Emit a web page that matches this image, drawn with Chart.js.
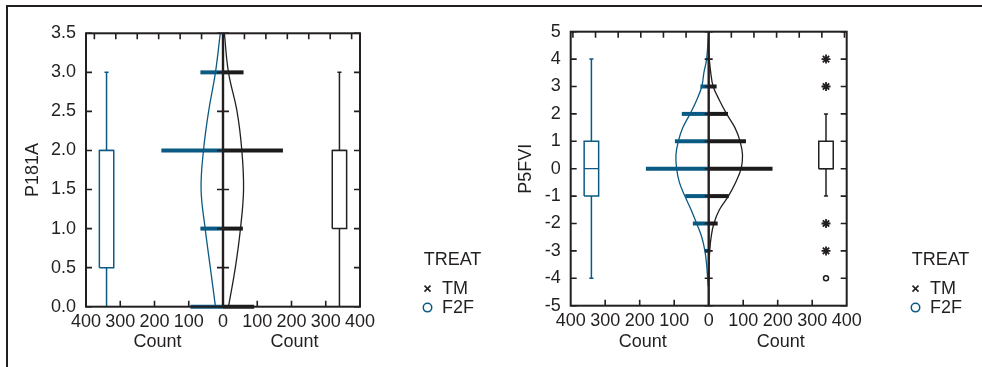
<!DOCTYPE html>
<html>
<head>
<meta charset="utf-8">
<script src="https://cdn.jsdelivr.net/npm/chart.js"></script>
<style>
  html, body { margin: 0; padding: 0; background: #fff; }
  body { width: 982px; height: 367px; position: relative; overflow: hidden; }
  #frame { position: absolute; left: 6px; top: 5px; width: 990px; height: 380px;
           border-top: 2px solid #231f20; border-left: 2px solid #231f20; }
  canvas { position: absolute; top: 0; }
  #left { left: 0; }
  #right { left: 491px; }
</style>
</head>
<body>
<div id="frame"></div>
<canvas id="left" width="491" height="367" style="width:491px;height:367px"></canvas>
<canvas id="right" width="491" height="367" style="width:491px;height:367px"></canvas>
<script>
var BLUE = '#0b5a84';
var INK = '#231f20';
var FONT = "'Liberation Sans', Arial, Helvetica, sans-serif";

// groups (legend order)
var groups = ['TM', 'F2F'];
var countTicks = [-400, -300, -200, -100, 0, 100, 200, 300, 400];
var propTicks = [-0.6, -0.5, -0.4, -0.3, -0.2, -0.1, 0, 0.1, 0.2, 0.3, 0.4, 0.5, 0.6];

// P181A
var p181Ticks = [0, 0.5, 1, 1.5, 2, 2.5, 3, 3.5];
var p181Levels = [0, 1, 2, 3];
var p181CountF2F = [95, 66, 180, 66];
var p181CountTM = [91, 58, 175, 60];
var p181CurveY = [0, 0.5, 1, 1.5, 2, 2.5, 3, 3.5];
var p181CurveF2F = [22, 37, 52, 64, 57, 42, 22, 8];
var p181CurveTM = [16, 36, 51, 60, 55, 41, 16, 4];
var p181BoxF2F = [0, 0.5, 2, 2, 3];   // min, q1, median, q3, max
var p181BoxTM = [0, 1, 2, 2, 3];
var p181N = 626;

// P5FVI
var p5Ticks = [-5, -4, -3, -2, -1, 0, 1, 2, 3, 4, 5];
var p5Levels = [-4, -3, -2, -1, 0, 1, 2, 3, 4];
var p5CountF2F = [3, 11, 46, 68, 182, 98, 78, 24, 3];
var p5CountTM = [2, 3, 26, 58, 185, 108, 56, 23, 3];
var p5CurveYF2F = [-4.3, -4, -3.5, -3, -2.5, -2, -1.5, -1, -0.5, 0, 0.5, 1, 1.5, 2, 2.5, 3, 3.5, 4, 5];
var p5CurveF2F = [1, 3, 6, 11, 20, 35, 51, 69, 85, 93, 95, 88, 75, 54, 35, 20, 14, 6, 0];
var p5CurveYTM = [-4, -3.5, -3, -2.5, -2, -1.5, -1, -0.5, 0, 0.5, 1, 1.5, 2, 2.5, 3, 3.5, 4.2];
var p5CurveTM = [0, 1, 3, 7, 15, 31, 57, 78, 94, 98, 91, 76, 52, 31, 13, 6, 0];
var p5BoxF2F = [-4, -1, 0, 1, 4];
var p5BoxTM = [-1, 0, 0, 1, 2];
var p5StarTM = [4, 3, -2, -3];
var p5FarTM = [-4];
var p5N = 656;

var BOX_AT = 340, BOX_HALF = 21, CAP_HALF = 6;

Chart.defaults.font.family = FONT;
Chart.defaults.color = INK;

function bars(levels, counts, side, color) {
  return {
    type: 'bar', indexAxis: 'y', grouped: false, maxBarThickness: 4, clip: false,
    backgroundColor: color, borderWidth: 0,
    data: levels.map(function(v, i) { return { y: v, x: [0, side * counts[i]] }; })
  };
}

function curve(ys, widths, side, color) {
  return {
    type: 'line', borderColor: color, borderWidth: 1.3, pointRadius: 0, tension: 0.4, fill: false,
    data: ys.map(function(v, i) { return { x: side * widths[i], y: v }; })
  };
}

function seg(pts, color, w) {
  return { type: 'line', borderColor: color, borderWidth: w, pointRadius: 0, tension: 0, fill: false, data: pts };
}

function boxplot(s, side, color) {
  var cx = side * BOX_AT, h = BOX_HALF, c = CAP_HALF;
  return [
    seg([{x: cx - h, y: s[1]}, {x: cx + h, y: s[1]}, {x: cx + h, y: s[3]}, {x: cx - h, y: s[3]}, {x: cx - h, y: s[1]}], color, 1.5),
    seg([{x: cx - h, y: s[2]}, {x: cx + h, y: s[2]}], color, 1.2),
    seg([{x: cx, y: s[0]}, {x: cx, y: s[1]}], color, 1.5),
    seg([{x: cx, y: s[3]}, {x: cx, y: s[4]}], color, 1.5),
    seg([{x: cx - c, y: s[0]}, {x: cx + c, y: s[0]}], color, 1.5),
    seg([{x: cx - c, y: s[4]}, {x: cx + c, y: s[4]}], color, 1.5)
  ];
}

function outliers(ys, side, style, r, w) {
  return {
    type: 'scatter', showLine: false, pointStyle: style, pointRadius: r,
    pointBorderColor: INK, pointBackgroundColor: '#fff', pointBorderWidth: w,
    data: ys.map(function(v) { return { x: side * BOX_AT, y: v }; })
  };
}

// frame, inward ticks, centre axis and the two "Count" titles
var frameTicks = {
  id: 'frameTicks',
  afterDatasetsDraw: function(chart, args, opts) {
    var ctx = chart.ctx, a = chart.chartArea;
    var x = chart.scales.x, y = chart.scales.y, xt = chart.scales.xTop;
    var zero = x.getPixelForValue(0);
    var L = 6;
    ctx.save();
    ctx.strokeStyle = INK;
    ctx.lineWidth = 1.6;
    ctx.beginPath();
    y.ticks.forEach(function(t) {
      var py = y.getPixelForValue(t.value);
      ctx.moveTo(a.left, py); ctx.lineTo(a.left + L, py);
      ctx.moveTo(a.right, py); ctx.lineTo(a.right - L, py);
      ctx.moveTo(zero - opts.mid, py); ctx.lineTo(zero + opts.mid, py);
    });
    x.ticks.forEach(function(t) {
      if (t.value === 0 || Math.abs(t.value) >= 400) return;
      var px = x.getPixelForValue(t.value);
      ctx.moveTo(px, a.bottom); ctx.lineTo(px, a.bottom - L);
    });
    xt.ticks.forEach(function(t) {
      if (t.value === 0) return;
      var px = xt.getPixelForValue(t.value);
      ctx.moveTo(px, a.top); ctx.lineTo(px, a.top + L);
    });
    ctx.stroke();
    ctx.lineWidth = 2;
    ctx.strokeRect(a.left, a.top, a.width, a.height);
    ctx.lineWidth = 2.4;
    ctx.beginPath();
    ctx.moveTo(zero, a.top); ctx.lineTo(zero, a.bottom);
    ctx.stroke();
    ctx.fillStyle = INK;
    ctx.font = '18px ' + FONT;
    ctx.textAlign = 'center';
    ctx.textBaseline = 'middle';
    ctx.fillText(opts.title, (a.left + zero) / 2 + 3, opts.titleY);
    ctx.fillText(opts.title, (zero + a.right) / 2 + 3, opts.titleY);
    ctx.restore();
  }
};

function legendItems() {
  return groups.map(function(g) {
    var tm = g === 'TM';
    return {
      text: g, hidden: false, fontColor: INK,
      pointStyle: tm ? 'crossRot' : 'circle',
      strokeStyle: tm ? INK : BLUE,
      fillStyle: tm ? INK : 'rgba(0,0,0,0)',
      lineWidth: 1.5
    };
  });
}

function makePanel(id, p, lay) {
  var datasets = [
    bars(p.levels, p.countF2F, -1, BLUE),
    bars(p.levels, p.countTM, 1, '#1b1b1b'),
    curve(p.curveYF2F, p.curveF2F, -1, BLUE),
    curve(p.curveYTM, p.curveTM, 1, INK)
  ].concat(boxplot(p.boxF2F, -1, BLUE), boxplot(p.boxTM, 1, INK));
  if (p.starTM) datasets.push(outliers(p.starTM, 1, 'star', 4.5, 1.8));
  if (p.farTM) datasets.push(outliers(p.farTM, 1, 'circle', 2.5, 1.5));

  var ymin = p.ticks[0], ymax = p.ticks[p.ticks.length - 1];
  var tickFont = { family: FONT, size: 18 };
  var hidden = { display: false, drawTicks: false };

  return new Chart(document.getElementById(id), {
    type: 'scatter',
    data: { datasets: datasets },
    plugins: [frameTicks],
    options: {
      responsive: false,
      animation: false,
      events: [],
      layout: { padding: { left: lay.padL, top: lay.padT, right: lay.padR, bottom: lay.padB } },
      scales: {
        x: {
          type: 'linear', position: 'bottom', min: -400, max: 400, offset: false,
          afterBuildTicks: function(s) { s.ticks = countTicks.map(function(v) { return { value: v }; }); },
          afterFit: function(s) { s.height = lay.xH; },
          ticks: { autoSkip: false, maxRotation: 0, padding: 5, color: INK, font: tickFont,
                   callback: function(v) { return Math.abs(v); } },
          grid: hidden, border: { display: false }
        },
        xTop: {
          type: 'linear', position: 'top', min: -400 / p.n, max: 400 / p.n, offset: false,
          afterBuildTicks: function(s) { s.ticks = propTicks.map(function(v) { return { value: v }; }); },
          ticks: { display: false }, grid: hidden, border: { display: false }
        },
        y: {
          type: 'linear', position: 'left', min: ymin, max: ymax, offset: false,
          afterBuildTicks: function(s) { s.ticks = p.ticks.map(function(v) { return { value: v }; }); },
          afterFit: function(s) { s.width = lay.yW; },
          ticks: { padding: 10, color: INK, font: tickFont,
                   callback: function(v) { return p.fmt(v); } },
          title: { display: true, text: p.name, color: INK, font: { family: FONT, size: 18 }, padding: 0 },
          grid: hidden, border: { display: false }
        },
        yR: {
          type: 'linear', position: 'right', min: ymin, max: ymax, offset: false,
          afterFit: function(s) { s.width = lay.gap; },
          ticks: { display: false }, grid: hidden, border: { display: false }
        }
      },
      plugins: {
        tooltip: { enabled: false },
        frameTicks: { mid: lay.mid, title: 'Count', titleY: 342 },
        legend: {
          position: 'right', align: 'start',
          title: { display: true, text: 'TREAT', position: 'center', color: INK,
                   font: { family: FONT, size: 18 }, padding: { top: lay.legendTop, bottom: 6 } },
          labels: { usePointStyle: true, boxWidth: 11, boxHeight: 6, padding: 1, color: INK,
                    font: { family: FONT, size: 18 }, generateLabels: legendItems }
        }
      }
    }
  });
}

makePanel('left', {
  name: 'P181A', ticks: p181Ticks, fmt: function(v) { return v.toFixed(1); }, n: p181N,
  levels: p181Levels, countF2F: p181CountF2F, countTM: p181CountTM,
  curveYF2F: p181CurveY, curveF2F: p181CurveF2F, curveYTM: p181CurveY, curveTM: p181CurveTM,
  boxF2F: p181BoxF2F, boxTM: p181BoxTM
}, { padL: 22.7, padT: 33.3, padR: 7, padB: 30, yW: 63.3, xH: 30.3, gap: 61, mid: 6, legendTop: 217.7 });

makePanel('right', {
  name: 'P5FVI', ticks: p5Ticks, fmt: function(v) { return String(v); }, n: p5N,
  levels: p5Levels, countF2F: p5CountF2F, countTM: p5CountTM,
  curveYF2F: p5CurveYF2F, curveF2F: p5CurveF2F, curveYTM: p5CurveYTM, curveTM: p5CurveTM,
  boxF2F: p5BoxF2F, boxTM: p5BoxTM, starTM: p5StarTM, farTM: p5FarTM
}, { padL: 24.5, padT: 31.7, padR: 10, padB: 30, yW: 55.2, xH: 31.3, gap: 62.3, mid: 4, legendTop: 219.3 });
</script>
</body>
</html>
